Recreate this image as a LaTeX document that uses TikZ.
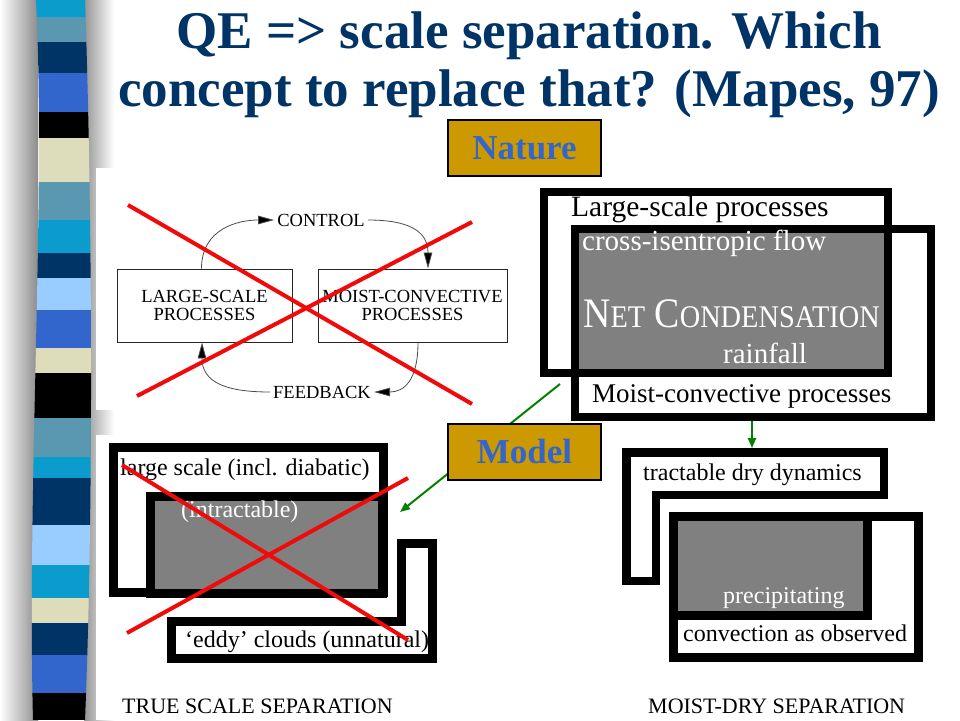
\documentclass[tikz,border=0pt]{standalone}
\usepackage{fontspec}
\setmainfont{Liberation Serif}
\usetikzlibrary{arrows.meta}
\definecolor{navy}{HTML}{003366}
\definecolor{gold}{HTML}{CC9900}
\definecolor{tblue}{HTML}{3366CC}
\definecolor{sblue}{HTML}{5A97B1}
\definecolor{cyanb}{HTML}{0A9CCC}
\definecolor{roy}{HTML}{3366CC}
\definecolor{lblue}{HTML}{99CCFF}
\definecolor{beige}{HTML}{DDDDBB}
\definecolor{dgreen}{HTML}{008000}
\definecolor{boxgray}{HTML}{808080}
\definecolor{redx}{HTML}{F00A0A}
\newcommand\fsz[1]{\fontsize{#1}{#1}\selectfont}
\tikzset{
  titletext/.style={anchor=base, inner sep=0pt, text=navy, font=\fsz{53}\bfseries},
  tagbox/.style={draw=black, line width=1.2pt, fill=gold, text=tblue, font=\fsz{35}\bfseries, minimum width=153pt, minimum height=56pt, inner sep=0pt},
  tlbox/.style={draw=black!85, line width=0.9pt, align=center, font=\fsz{18.5}, inner sep=0pt},
  tllab/.style={font=\fsz{18.5}, inner sep=3pt},
  tlarc/.style={draw=black!70, line width=0.8pt, -{Triangle[length=16pt,width=8.5pt,fill=black]}},
  redline/.style={draw=redx, line width=4pt},
  thickbox/.style={draw=black, line width=8pt},
  thickbox9/.style={draw=black, line width=9pt},
  lbl/.style={anchor=base west, inner sep=0pt},
  greenarrow/.style={draw=dgreen, line width=2pt, -{Triangle[length=10pt,width=8pt]}},
}
\begin{document}
\begin{tikzpicture}[x=1pt,y=-1pt]
\useasboundingbox (0,0) rectangle (960,720);
\fill[white] (0,0) rectangle (960,720);
% shadows beside the stripe bar
\shade[left color=white, right color=black!45] (0,0) rectangle (38,720);
\shade[left color=black!42, right color=white] (84,0) rectangle (114,720);
% stripe bar
\begin{scope}
\clip (36,0) .. controls (46,200) and (27,480) .. (33,720) -- (85,720) .. controls (94,500) and (92,200) .. (85,0) -- cycle;
\foreach \ya/\yb/\c in {0/17/cyanb,17/42/sblue,42/73/navy,73/112/roy,112/138/black,138/182/beige,182/220/sblue,220/253/cyanb,253/278/navy,278/310/lblue,310/348/roy,348/373/beige,373/418/black,418/457/sblue,457/478/cyanb,478/525/navy,525/565/lblue,565/598/cyanb,598/623/beige,623/655/navy,655/693/roy,693/720/black}
  \fill[\c] (20,\ya) rectangle (100,\yb);
\end{scope}
% white picture areas
\fill[white] (96,168) rectangle (525,410);
\fill[white] (96,435) rectangle (545,720);
% title
\node[titletext] (title1) at (529,48) {QE => scale separation. Which};
\node[titletext] (title2) at (529,106) {concept to replace that? (Mapes, 97)};
% nature tag
\node[tagbox] (nature) at (524.5,148) {Nature};

% ---------- top-left diagram ----------
\node[tlbox, minimum width=175pt, minimum height=73pt] (lsb) at (204.5,305.5) {LARGE-SCALE\\PROCESSES};
\node[tlbox, minimum width=189pt, minimum height=73pt] (mcb) at (412.5,305.5) {MOIST-CONVECTIVE\\PROCESSES};
\node[tllab] (ctrl) at (321,220) {CONTROL};
\node[tllab] (fdbk) at (322,392) {FEEDBACK};
\draw[tlarc] ([xshift=-3pt]lsb.north) .. controls +(0,-40) and +(-36,0) .. (ctrl.west);
\draw[tlarc] (ctrl.east) .. controls +(40,0) and +(0,-38) .. ([xshift=15.5pt]mcb.north);
\draw[tlarc] ([xshift=5.5pt]mcb.south) .. controls +(0,38) and +(30,0) .. (fdbk.east);
\draw[tlarc] (fdbk.west) .. controls +(-44,0) and +(0,40) .. ([xshift=-2.5pt]lsb.south);
\coordinate (rxa1) at (128,205); \coordinate (rxa2) at (472,404);
\coordinate (rxb1) at (137,396); \coordinate (rxb2) at (472,222);
\draw[redline] (rxa1) -- (rxa2);
\draw[redline] (rxb1) -- (rxb2);

% ---------- top-right diagram ----------
\fill[white] (544,192) rectangle (888,373);
\fill[white] (575,229) rectangle (931,417);
\fill[boxgray] (579,233) rectangle (884,369);
\draw[thickbox] (544,192) rectangle (888,373);
\draw[thickbox] (575,229) rectangle (931,417);
\node[lbl, font=\fsz{29.5}] (lsp) at (571,216) {Large-scale processes};
\node[lbl, font=\fsz{29}, text=white] (cif) at (582,250) {cross-isentropic flow};
\node[lbl, font=\fsz{42}, text=white] (netc) at (583,327) {\scalebox{0.9}[1]{N{\fsz{31.5}ET} C{\fsz{31.5}ONDENSATION}}};
\node[lbl, font=\fsz{29}, text=white] (rain) at (723,363) {rainfall};
\node[lbl, font=\fsz{27}] (mcp) at (592,402) {Moist-convective processes};

% green arrows
\coordinate (g1s) at (560,384); \coordinate (g1e) at (400,512);
\draw[greenarrow] (g1s) -- (g1e);
\coordinate (g2s) at (752,421); \coordinate (g2e) at (752,448);
\draw[greenarrow] (g2s) -- (g2e);

% model tag
\node[tagbox] (model) at (524.5,452) {Model};

% ---------- bottom-left diagram ----------
\filldraw[thickbox9, fill=white] (113.5,447.5) rectangle (383.5,592.5);
\filldraw[thickbox9, fill=boxgray] (150.5,496.5) rectangle (382,593.5);
\filldraw[thickbox9, fill=white] (171.5,621.5) -- (401.5,621.5) -- (401.5,543.5) -- (432.5,543.5) -- (432.5,658.5) -- (171.5,658.5) -- cycle;
\node[lbl, font=\fsz{24}] (lsd) at (120,475) {large scale (incl. diabatic)};
\node[lbl, font=\fsz{24}, text=white] (intr) at (181,517) {(intractable)};
\node[lbl, font=\fsz{24}] (eddy) at (185,647) {‘eddy’ clouds (unnatural)};
\node[lbl, font=\fsz{22}] (tss) at (122,713) {TRUE SCALE SEPARATION};
\coordinate (rxc1) at (122,465); \coordinate (rxc2) at (408,640);
\coordinate (rxd1) at (127,633); \coordinate (rxd2) at (408,478);
\draw[redline] (rxc1) -- (rxc2);
\draw[redline] (rxd1) -- (rxd2);

% ---------- bottom-right diagram ----------
\filldraw[draw=black, line width=8.5pt, fill=white] (626.25,452.25) -- (883.75,452.25) -- (883.75,495) -- (656,495) -- (656,581) -- (626.25,581) -- cycle;
\filldraw[thickbox9, fill=white] (673.5,516.5) rectangle (918.5,657.5);
\filldraw[thickbox9, fill=boxgray] (673.5,516.5) rectangle (867.5,615);
\node[lbl, font=\fsz{24}] (tdd) at (643,480) {tractable dry dynamics};
\node[lbl, font=\fsz{24}, text=white] (prec) at (723,603) {precipitating};
\node[lbl, font=\fsz{24}] (cao) at (683,641) {convection as observed};
\node[lbl, font=\fsz{22}] (mds) at (648,713) {MOIST-DRY SEPARATION};
\end{tikzpicture}
\end{document}
